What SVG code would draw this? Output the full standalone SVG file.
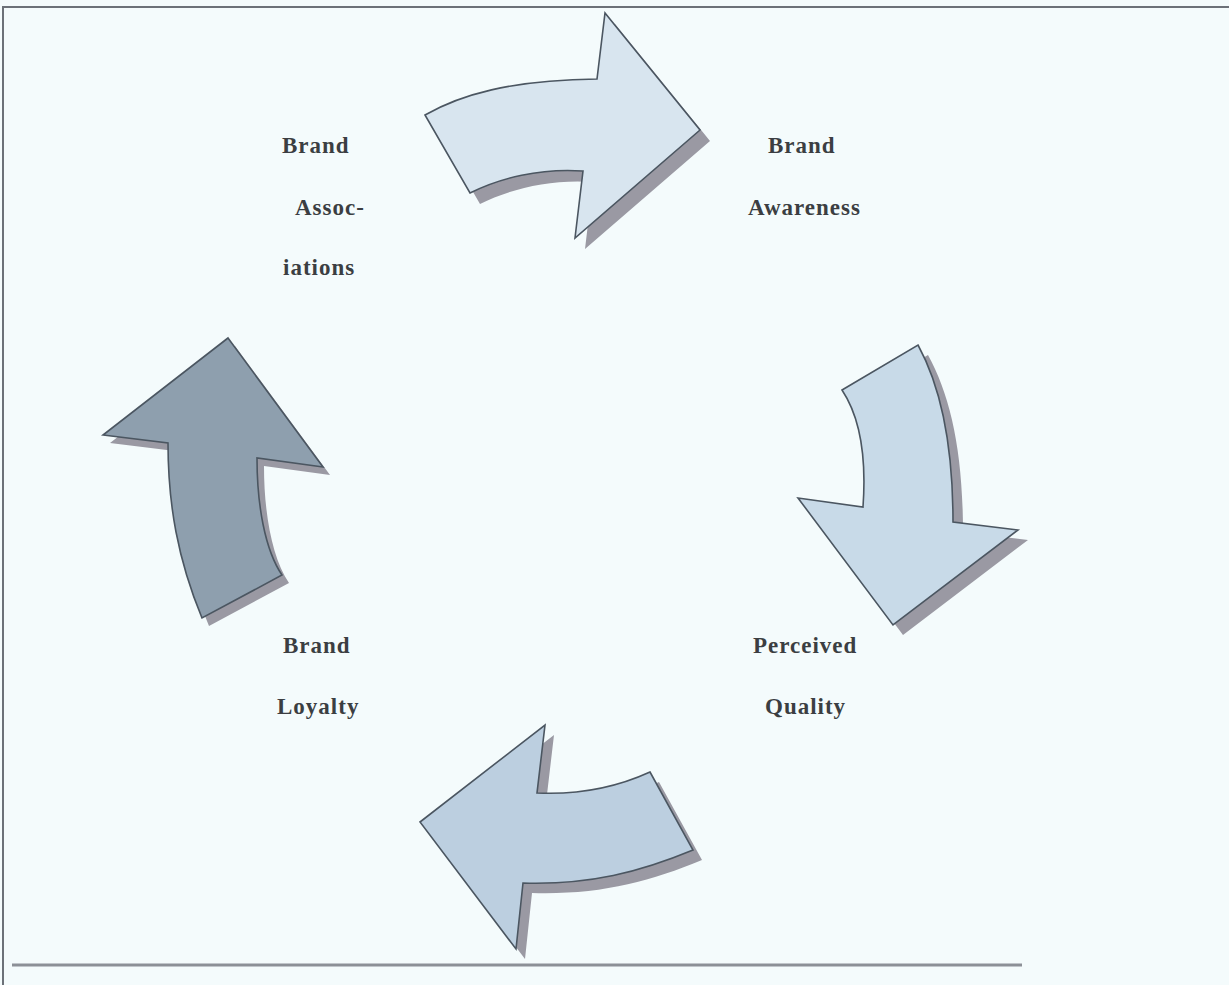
<svg xmlns="http://www.w3.org/2000/svg" width="1229" height="985" viewBox="0 0 1229 985">
<style>
.bg{fill:#f4fbfc}
.frame{stroke:#6c7178;stroke-width:2;fill:none}
.shadow{fill:#9a99a3}
.arrow{stroke:#4b5661;stroke-width:1.6;stroke-linejoin:miter}
.lbl{font-family:"Liberation Serif","Times New Roman",serif;font-weight:bold;font-size:23px;letter-spacing:1px;fill:#3b3e42}
</style>
<rect class="bg" x="0" y="0" width="1229" height="985"/>
<g id="frame">
<line class="frame" x1="2" y1="7" x2="1229" y2="7"/>
<line class="frame" x1="3" y1="7" x2="3" y2="985"/>
<line class="frame" x1="12" y1="965" x2="1022" y2="965" style="stroke:#8c9097;stroke-width:3"/>
</g>
<g id="connectors">
<g id="arrow-top">
<path class="shadow" transform="translate(10,11)" d="M425,115 C460,95 510,80 597,79 L605,13 L700,130 L575,238 L583,171 C540,168 500,178 470,193 Z"/>
<path class="arrow" fill="#d8e5ef" d="M425,115 C460,95 510,80 597,79 L605,13 L700,130 L575,238 L583,171 C540,168 500,178 470,193 Z"/>
</g>
<g id="arrow-right">
<path class="shadow" transform="translate(10,10)" d="M842,390 L918,345 C940,385 953,440 953,522 L1018,530 L893,625 L798,498 L863,507 C866,465 862,420 842,390 Z"/>
<path class="arrow" fill="#c8dae8" d="M842,390 L918,345 C940,385 953,440 953,522 L1018,530 L893,625 L798,498 L863,507 C866,465 862,420 842,390 Z"/>
</g>
<g id="arrow-bottom">
<path class="shadow" transform="translate(9,10)" d="M650,772 L693,850 C640,872 590,885 523,883 L516,949 L420,822 L545,725 L537,793 C580,795 615,788 650,772 Z"/>
<path class="arrow" fill="#bccfe0" d="M650,772 L693,850 C640,872 590,885 523,883 L516,949 L420,822 L545,725 L537,793 C580,795 615,788 650,772 Z"/>
</g>
<g id="arrow-left">
<path class="shadow" transform="translate(7,8)" d="M228,338 L323,467 L257,458 C257,505 265,550 282,575 L202,618 C178,560 168,505 168,443 L103,435 Z"/>
<path class="arrow" fill="#8e9fae" d="M228,338 L323,467 L257,458 C257,505 265,550 282,575 L202,618 C178,560 168,505 168,443 L103,435 Z"/>
</g>
</g>
<g id="node-brand-associations">
<text class="lbl" x="282" y="153">Brand</text>
<text class="lbl" x="295" y="215">Assoc-</text>
<text class="lbl" x="283" y="275">iations</text>
</g>
<g id="node-brand-awareness">
<text class="lbl" x="768" y="153">Brand</text>
<text class="lbl" x="748" y="215">Awareness</text>
</g>
<g id="node-perceived-quality">
<text class="lbl" x="753" y="653">Perceived</text>
<text class="lbl" x="765" y="714">Quality</text>
</g>
<g id="node-brand-loyalty">
<text class="lbl" x="283" y="653">Brand</text>
<text class="lbl" x="277" y="714">Loyalty</text>
</g>
</svg>
